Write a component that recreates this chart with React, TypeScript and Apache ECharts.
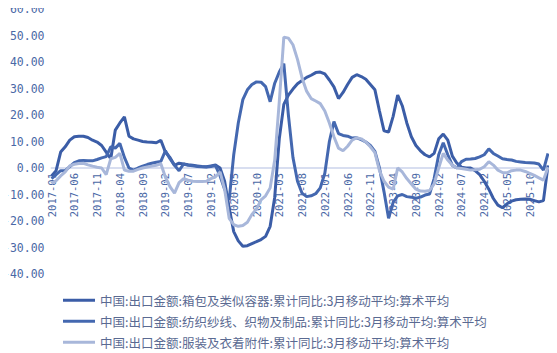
import React, { useEffect, useRef } from "react";
import * as echarts from "echarts";

const seriesNames = [
  "中国:出口金额:箱包及类似容器:累计同比:3月移动平均:算术平均",
  "中国:出口金额:纺织纱线、织物及制品:累计同比:3月移动平均:算术平均",
  "中国:出口金额:服装及衣着附件:累计同比:3月移动平均:算术平均",
];

// months 2017-01 .. 2026-02
const months: string[] = [];
for (let y = 2017; y <= 2026; y++) {
  for (let m = 1; m <= 12; m++) {
    if (y === 2026 && m > 2) break;
    months.push(`${y}-${String(m).padStart(2, "0")}`);
  }
}

const bags = [
  -3, -1, 6, 8, 10.5, 11.8, 12, 12, 11.5, 10.5, 9.8, 8.5,
  6, 3.5, 14.3, 17, 19.3, 12, 11, 10.5, 10, 9.8, 9.7, 9.5,
  10.5, 6, 4, 1, 1.8, 1.5, 1.2, 1, 0.8, 0.6, 0.5, 0.8,
  1.1, 0, -5, -15, -24, -27.5, -29.5, -29.3, -28.5, -27.8, -27, -25.8,
  -22, -11, 11, 24, 27.5, 29.8, 31.8, 33, 34.2, 35, 36, 36.2,
  35.5, 33.2, 30.6, 26.2, 28.5, 31.5, 34.2, 35.2, 34.5, 33.5, 31.5, 29.5,
  21.5, 14, 13.6, 19.5, 27.5, 23.5, 17, 11.8, 8.5, 6.5, 5, 4.2,
  5.5, 11, 12.8, 10.5, 4.5, 1.8, 0.3, 0, 0, -1, -2.5, -5,
  -8, -11.5, -14, -15, -13.5, -12.5, -12, -11.8, -11.7, -11.8, -12.3, -12.8,
  -12.3, 1,
];

const textile = [
  -4, -2.5, -1, -1, 0.5, 2, 2.7, 2.8, 2.7, 2.7, 3.2, 3.8,
  4.3, 8, 7.5, 9.3, 4, 0, -0.8, 0, 0.7, 1.3, 1.8, 2.2,
  2.5, 6.5, 3.5, 1, -1, 1.5, 1, 0.8, 0.6, 0.5, 0.4, 0.6,
  0.9, -3, -8, -12, 5, 17, 25.8, 29.5, 31.5, 32.5, 32.4, 30.7,
  25, 32, 36.2, 39.4, 20, 4, -5, -9.5, -10.8, -10.5, -9.7, -7.5,
  -2, 10, 17.5, 13, 12.3, 12, 11.3, 11.4, 10.7, 9.8, 8.5, 6.3,
  0, -9, -19, -13, -10.5, -10, -10.8, -11, -11.4, -11, -10.2, -9.8,
  -4, 5, 9.5, 5, 1, 0, 2.4, 3.3, 3.4, 3.6, 4.2, 5,
  7.2, 5.5, 4.5, 3.5, 3.2, 3, 2.5, 2.3, 2.1, 2, 1.9, 1.5,
  -0.8, 5.5,
];

const garments = [
  -5.8, -4.8, -3, -1.5, 0.8, 1.4, 1.7, 1.8, 1.2, 0.7, 0.3, 0,
  -2.5, 3.5, 4, 5.5, -0.8, -1.2, -1.2, -0.5, 0, 0.4, 0.7, 1,
  1.6, -3.5, -7, -9.5, -5.5, -4, -4.6, -5, -5.1, -5.1, -5, -4,
  -3.3, -1.5, -8, -19, -21.4, -22, -21.7, -20.5, -17.5, -15.5, -12, -10.5,
  -7.5, 3, 25, 49.4, 49, 46.5, 41, 34, 29, 26.2, 25.3, 24.3,
  21.5, 17, 11.8, 7.5, 6.5, 8.2, 10.5, 11.4, 11, 9.8, 8, 5.8,
  -1, -5, -7.2, -8, 0, -1.5, -4, -6, -8, -8.7, -8.8, -8.5,
  -6, 0, 5.5, 3, 1, 0, -0.2, -0.5, -0.8, -0.7, -0.5, 0.5,
  2.4, 1.1, -0.8, -1.7, -1.8, -1, -0.8, -0.8, -1.3, -2, -2.8, -3.7,
  -4.6, 0.3,
];

const colors = ["#3b5da7", "#4468b0", "#a8b7da"];

export default function App() {
  const ref = useRef<HTMLDivElement>(null);
  useEffect(() => {
    if (!ref.current) return;
    const chart = echarts.init(ref.current, null, { renderer: "svg" });
    const mk = (name: string, data: number[], color: string) => ({
      name,
      type: "line",
      data,
      showSymbol: false,
      symbol: "none",
      lineStyle: { width: 3, color },
      itemStyle: { color },
    });
    const gridTop = 9;
    const gridBottom = 79;
    const plotH = 353 - gridTop - gridBottom;
    const zeroOffset = (plotH * 40) / 100; // distance of 0 line above grid bottom
    const legendTops = [289, 310, 331];
    chart.setOption({
      animation: false,
      backgroundColor: "#ffffff",
      grid: { left: 50, right: 9, top: gridTop, bottom: gridBottom, containLabel: false },
      legend: seriesNames.map((n, i) => ({
        orient: "horizontal",
        left: 58,
        top: legendTops[i],
        itemWidth: 32,
        itemHeight: 3,
        icon: "rect",
        textStyle: {
          fontFamily: "Noto Sans CJK SC",
          fontSize: 12.5,
          color: "#5a6a92",
        },
        data: [n],
      })),
      xAxis: {
        type: "category",
        data: months,
        boundaryGap: false,
        offset: -zeroOffset,
        axisLine: { onZero: false, lineStyle: { color: "#d8def0", width: 2 } },
        axisTick: { show: false },
        axisLabel: {
          interval: 4,
          rotate: 90,
          fontFamily: "DejaVu Sans Mono",
          fontSize: 10.5,
          color: "#4a68a6",
          margin: 5,
        },
        splitLine: { show: false },
      },
      yAxis: {
        type: "value",
        min: -40,
        max: 60,
        interval: 10,
        axisLine: { show: false },
        axisTick: { show: false },
        splitLine: { show: false },
        axisLabel: {
          formatter: (v: number) => v.toFixed(2),
          fontFamily: "DejaVu Sans Mono",
          fontSize: 11.5,
          color: "#4a68a6",
          margin: 7,
        },
      },
      series: [
        mk(seriesNames[0], bags, colors[0]),
        mk(seriesNames[1], textile, colors[1]),
        mk(seriesNames[2], garments, colors[2]),
      ],
    });
    return () => chart.dispose();
  }, []);
  return <div ref={ref} style={{ width: 557, height: 353, marginLeft: -8, marginTop: -8 }} />;
}
